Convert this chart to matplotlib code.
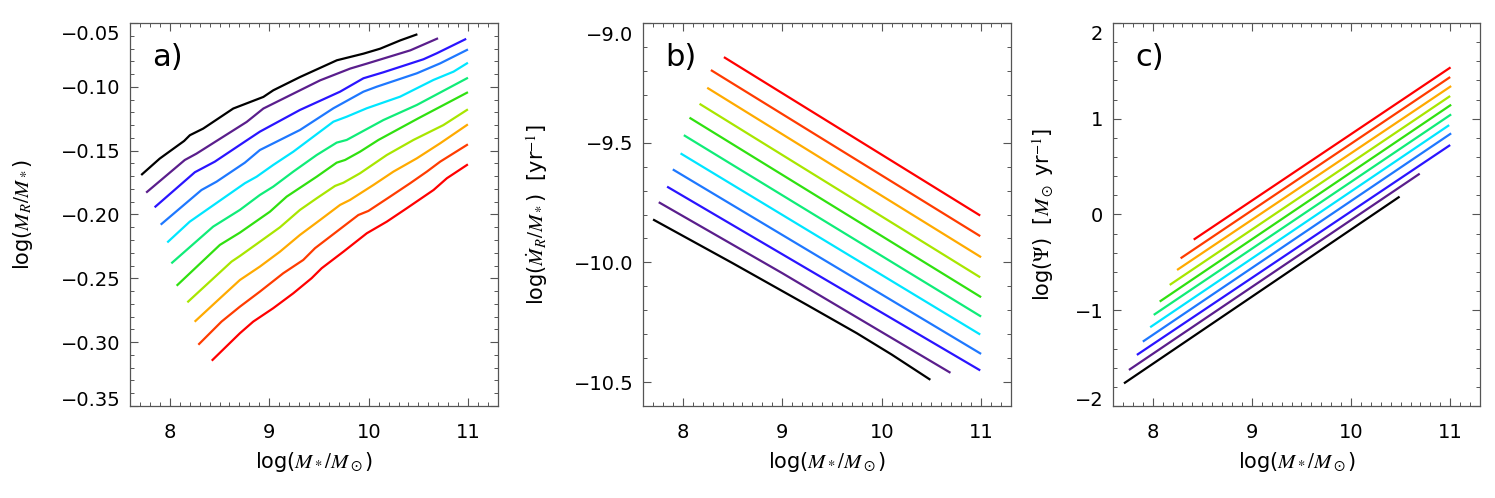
import numpy as np
import matplotlib
matplotlib.use("Agg")
import matplotlib.pyplot as plt
from matplotlib.ticker import MultipleLocator, FuncFormatter
from matplotlib.transforms import ScaledTranslation

# colours, black (lowest) to red (highest)
colors = ['#000000', '#5a1e8c', '#2a14ff', '#1e78ff', '#00e6ff', '#10ec78',
          '#30e010', '#a8e600', '#ffaa00', '#ff3c00', '#ff0000']

# ---- panel a: log(M_R/M*) vs log(M*/Msun)
a_x = [
    [7.721, 7.899, 8.144, 8.202, 8.336, 8.638, 8.941, 9.041, 9.310, 9.680, 9.948, 10.116, 10.318, 10.479],
    [7.771, 8.151, 8.269, 8.470, 8.773, 8.941, 9.310, 9.512, 9.814, 9.982, 10.419, 10.687],
    [7.856, 8.252, 8.453, 8.755, 8.906, 9.309, 9.712, 9.947, 10.148, 10.551, 10.685, 10.970],
    [7.917, 8.319, 8.470, 8.755, 8.906, 9.309, 9.645, 9.947, 10.081, 10.484, 10.719, 10.988],
    [7.983, 8.201, 8.755, 8.873, 9.040, 9.242, 9.645, 9.779, 9.980, 10.316, 10.651, 10.853, 10.988],
    [8.024, 8.436, 8.705, 8.906, 9.040, 9.242, 9.477, 9.678, 9.779, 10.148, 10.484, 10.988],
    [8.077, 8.504, 8.705, 9.007, 9.175, 9.477, 9.678, 9.762, 9.913, 10.098, 10.500, 10.988],
    [8.185, 8.621, 8.705, 8.906, 9.108, 9.309, 9.477, 9.662, 9.746, 9.913, 10.182, 10.450, 10.750, 10.988],
    [8.258, 8.487, 8.705, 8.906, 9.108, 9.309, 9.511, 9.712, 9.812, 10.047, 10.249, 10.484, 10.719, 10.988],
    [8.295, 8.520, 8.705, 8.906, 9.141, 9.342, 9.460, 9.678, 9.896, 9.997, 10.215, 10.417, 10.585, 10.719, 10.988],
    [8.430, 8.705, 8.839, 9.040, 9.242, 9.426, 9.527, 9.746, 9.981, 10.182, 10.383, 10.652, 10.786, 10.988],
]
a_y = [
    [-0.1685, -0.1562, -0.1424, -0.1379, -0.1327, -0.1170, -0.1079, -0.1027, -0.0923, -0.0792, -0.0740, -0.0701, -0.0636, -0.0591],
    [-0.1823, -0.1573, -0.1523, -0.1424, -0.1275, -0.1170, -0.1027, -0.0949, -0.0857, -0.0818, -0.0714, -0.0623],
    [-0.1938, -0.1669, -0.1586, -0.1429, -0.1351, -0.1181, -0.1038, -0.0933, -0.0886, -0.0784, -0.0737, -0.0628],
    [-0.2074, -0.1808, -0.1743, -0.1594, -0.1495, -0.1338, -0.1168, -0.1038, -0.0999, -0.0894, -0.0816, -0.0711],
    [-0.2213, -0.2056, -0.1755, -0.1704, -0.1612, -0.1508, -0.1273, -0.1234, -0.1168, -0.1077, -0.0946, -0.0881, -0.0816],
    [-0.2377, -0.2095, -0.1964, -0.1847, -0.1782, -0.1664, -0.1534, -0.1437, -0.1416, -0.1260, -0.1142, -0.0933],
    [-0.2552, -0.2238, -0.2142, -0.1978, -0.1860, -0.1704, -0.1594, -0.1573, -0.1508, -0.1416, -0.1246, -0.1046],
    [-0.2682, -0.2369, -0.2325, -0.2213, -0.2100, -0.1964, -0.1873, -0.1776, -0.1751, -0.1677, -0.1534, -0.1416, -0.1300, -0.1181],
    [-0.2834, -0.2669, -0.2513, -0.2408, -0.2291, -0.2160, -0.2043, -0.1925, -0.1886, -0.1769, -0.1664, -0.1560, -0.1442, -0.1299],
    [-0.3014, -0.2839, -0.2722, -0.2604, -0.2460, -0.2356, -0.2264, -0.2134, -0.2004, -0.1972, -0.1860, -0.1755, -0.1664, -0.1586, -0.1455],
    [-0.3139, -0.2930, -0.2839, -0.2734, -0.2617, -0.2499, -0.2421, -0.2291, -0.2147, -0.2056, -0.1951, -0.1808, -0.1716, -0.1612],
]

# ---- panel b: log(dM_R/dt / M*) [yr^-1]
b_x = [
    [7.711, 8.5, 9.25, 9.75, 10.1, 10.480],
    [7.768, 9.0, 10.682],
    [7.852, 10.981],
    [7.909, 10.990],
    [7.987, 10.981],
    [8.020, 10.990],
    [8.077, 10.990],
    [8.178, 10.981],
    [8.255, 10.990],
    [8.292, 10.981],
    [8.423, 10.981],
]
b_y = [
    [-9.823, -10.003, -10.178, -10.296, -10.385, -10.488],
    [-9.751, -10.045, -10.459],
    [-9.686, -10.449],
    [-9.614, -10.380],
    [-9.547, -10.299],
    [-9.471, -10.224],
    [-9.398, -10.143],
    [-9.340, -10.060],
    [-9.273, -9.976],
    [-9.199, -9.888],
    [-9.145, -9.802],
]

# ---- panel c: log(Psi) [Msun yr^-1]
c_x = [
    [7.720, 10.480],
    [7.770, 10.683],
    [7.850, 10.990],
    [7.910, 11.000],
    [7.984, 10.980],
    [8.020, 11.000],
    [8.080, 11.000],
    [8.181, 10.990],
    [8.255, 11.000],
    [8.291, 10.990],
    [8.423, 10.994],
]
c_y = [
    [-1.757, 0.180],
    [-1.617, 0.420],
    [-1.460, 0.719],
    [-1.321, 0.841],
    [-1.171, 0.927],
    [-1.042, 1.039],
    [-0.903, 1.140],
    [-0.729, 1.231],
    [-0.573, 1.335],
    [-0.451, 1.429],
    [-0.256, 1.530],
]

plt.rcParams['mathtext.fontset'] = 'stix'
plt.rcParams['font.family'] = ['DejaVu Sans']

fig = plt.figure(figsize=(14.95, 4.98), dpi=100)
ax_a = fig.add_axes([130 / 1495, 92 / 498, 368 / 1495, 383 / 498])
ax_b = fig.add_axes([643 / 1495, 92 / 498, 368 / 1495, 383 / 498])
ax_c = fig.add_axes([1113 / 1495, 92 / 498, 367 / 1495, 383 / 498])

xlabel = r'log($M_*/M_\odot$)'
panels = [
    (ax_a, a_x, a_y, (-0.35, -0.05), 0.05, 0.01, '{:.2f}', r'log($M_R/M_*$)', 'a)', -0.291),
    (ax_b, b_x, b_y, (-10.6, -9.0), 0.5, 0.1, '{:.1f}', r'log($\dot{M}_R/M_*$)  [yr$^{-1}$]', 'b)', -0.288),
    (ax_c, c_x, c_y, (-2, 2), 1, 0.2, '{:.0f}', r'log($\Psi$)  [$M_\odot$ yr$^{-1}$]', 'c)', -0.191),
]

for ax, xs, ys, ylim, major, minor, fmt, ylabel, tag, ylx in panels:
    for xx, yy, col in zip(xs, ys, colors):
        ax.plot(xx, yy, color=col, lw=1.6)
    ax.set_xlim(7.6, 11.3)
    ax.set_ylim(*ylim)
    ax.xaxis.set_major_locator(MultipleLocator(1))
    ax.xaxis.set_minor_locator(MultipleLocator(0.1))
    ax.yaxis.set_major_locator(MultipleLocator(major))
    ax.yaxis.set_minor_locator(MultipleLocator(minor))
    ax.yaxis.set_major_formatter(FuncFormatter(lambda v, p, f=fmt: f.format(v).replace('-', '\u2212')))
    ax.tick_params(which='both', direction='in', top=True, right=True, color='#555555')
    ax.tick_params(which='major', length=6, width=0.8, labelsize=14, pad=7)
    ax.tick_params(axis='x', which='major', pad=12)
    ax.tick_params(which='minor', length=3, width=0.7)
    for s in ax.spines.values():
        s.set_color('#555555')
        s.set_linewidth(0.9)
    ax.set_xlabel(xlabel, fontsize=15, labelpad=6)
    ax.set_ylabel(ylabel, fontsize=15)
    ax.yaxis.set_label_coords(ylx, 0.5)
    ax.yaxis.label.set_va('center')
    ax.text(0.06, 0.91, tag, transform=ax.transAxes, fontsize=22, ha='left', va='center')

    # IDL style: end labels pulled inside the axis range
    ticks = ax.yaxis.get_major_ticks()
    locs = ax.get_yticks()
    for t, v in zip(ticks, locs):
        if np.isclose(v, ylim[1]):
            t.label1.set_transform(t.label1.get_transform() + ScaledTranslation(0, -10 / 100, fig.dpi_scale_trans))
        elif np.isclose(v, ylim[0]):
            t.label1.set_transform(t.label1.get_transform() + ScaledTranslation(0, 8 / 100, fig.dpi_scale_trans))

fig.savefig('out.png', dpi=100)
